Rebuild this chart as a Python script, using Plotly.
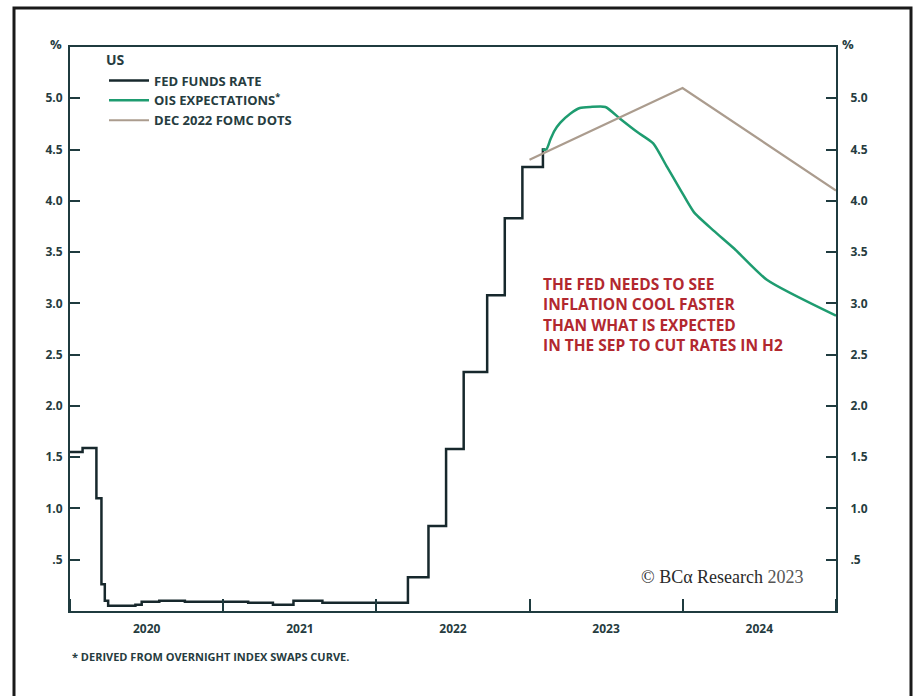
import plotly.graph_objects as go

# ---- data ----
ffr_dates = ["2020-01-01", "2020-01-31", "2020-03-04", "2020-03-16", "2020-03-24", "2020-04-01",
             "2020-06-05", "2020-06-20", "2020-08-01", "2020-10-01", "2021-01-01", "2021-03-01",
             "2021-04-29", "2021-06-17", "2021-08-25", "2022-03-17", "2022-05-05", "2022-06-16",
             "2022-07-28", "2022-09-22", "2022-11-03", "2022-12-15", "2023-02-02", "2023-02-08"]
ffr_values = [1.55, 1.59, 1.10, 0.26, 0.10, 0.05,
              0.06, 0.09, 0.10, 0.09, 0.09, 0.08,
              0.06, 0.10, 0.08, 0.33, 0.83, 1.58,
              2.33, 3.08, 3.83, 4.33, 4.50, 4.50]

ois_dates = ["2023-02-01", "2023-02-10", "2023-02-20", "2023-03-01", "2023-03-15", "2023-04-08",
             "2023-05-01", "2023-05-26", "2023-07-01", "2023-08-05", "2023-09-15", "2023-10-23",
             "2023-11-25", "2023-12-28", "2024-01-28", "2024-03-15", "2024-05-03", "2024-07-20",
             "2025-01-01"]
ois_values = [4.50, 4.50, 4.60, 4.68, 4.76, 4.85,
              4.905, 4.915, 4.915, 4.80, 4.67, 4.56,
              4.33, 4.10, 3.89, 3.71, 3.535, 3.23,
              2.88]

dots_dates = ["2023-01-01", "2024-01-01", "2025-01-01"]
dots_values = [4.4, 5.1, 4.1]

y_tickvals = [0.5, 1.0, 1.5, 2.0, 2.5, 3.0, 3.5, 4.0, 4.5, 5.0]
y_ticktext = [".5", "1.0", "1.5", "2.0", "2.5", "3.0", "3.5", "4.0", "4.5", "5.0"]

note_lines = ["THE FED NEEDS TO SEE", "INFLATION COOL FASTER",
              "THAN WHAT IS EXPECTED", "IN THE SEP TO CUT RATES IN H2"]

AX = "#1f3b3f"
TXT = "#263c40"
FONT = "Open Sans"

fig = go.Figure()
fig.add_trace(go.Scatter(x=ffr_dates, y=ffr_values, mode="lines", name="FED FUNDS RATE",
                         line=dict(color="#17282c", width=2.5, shape="hv")))
fig.add_trace(go.Scatter(x=ois_dates, y=ois_values, mode="lines", name="OIS EXPECTATIONS<sup>*</sup>",
                         line=dict(color="#1e9c70", width=2.5, shape="spline", smoothing=0.6)))
fig.add_trace(go.Scatter(x=dots_dates, y=dots_values, mode="lines", name="DEC 2022 FOMC DOTS",
                         line=dict(color="#ab9c8e", width=2.2), yaxis="y2"))

axis_common = dict(showgrid=False, zeroline=False, showline=True, linecolor=AX, linewidth=2,
                   ticks="inside", tickcolor=AX, tickwidth=1.5,
                   tickfont=dict(family=FONT, size=12, color=TXT, weight="bold"))

fig.update_layout(
    width=924, height=696,
    margin=dict(l=70, r=88, t=47, b=85),
    paper_bgcolor="white", plot_bgcolor="white",
    showlegend=True,
    legend=dict(x=0.0444, y=0.9995, xanchor="left", yanchor="top",
                bgcolor="rgba(0,0,0,0)",
                title=dict(text="US", font=dict(family=FONT, size=14, color=TXT, weight="bold")),
                font=dict(family=FONT, size=13, color=TXT, weight="bold"),
                itemwidth=40, tracegroupgap=0),
    xaxis=dict(type="date", range=["2020-01-01", "2025-01-01"], dtick="M12", tick0="2020-01-01",
               ticklabelmode="period", tickformat="%Y", ticklen=12, mirror=True,
               ticklabelstandoff=6, **axis_common),
    yaxis=dict(range=[0, 5.5], tickvals=y_tickvals, ticktext=y_ticktext, ticklen=10,
               ticklabelstandoff=3, **axis_common),
    yaxis2=dict(range=[0, 5.5], overlaying="y", side="right", tickvals=y_tickvals,
                ticktext=y_ticktext, ticklen=10, ticklabelstandoff=10, **axis_common),
)

annotations = [
    dict(text="%", x=-0.0183, y=1.005, xref="paper", yref="paper", showarrow=False,
         xanchor="center", yanchor="middle",
         font=dict(family=FONT, size=13, color=TXT, weight="bold")),
    dict(text="%", x=1.0157, y=1.005, xref="paper", yref="paper", showarrow=False,
         xanchor="center", yanchor="middle",
         font=dict(family=FONT, size=13, color=TXT, weight="bold")),
    dict(text="* DERIVED FROM OVERNIGHT INDEX SWAPS CURVE.", x=0.0, y=-0.08, xref="paper", yref="paper",
         xanchor="left", yanchor="middle", showarrow=False,
         font=dict(family=FONT, size=11, color=TXT, weight="bold")),
    dict(text="© BCα Research <span style='color:#555555'>2023</span>", x=0.961, y=0.06,
         xref="paper", yref="paper", xanchor="right", yanchor="middle", showarrow=False,
         font=dict(family="Liberation Serif", size=18, color="#2a2a2a")),
]
for i, line in enumerate(note_lines):
    annotations.append(dict(text=line, x=0.615, y=(611 - (284 + 20.3 * i)) / 564,
                            xref="paper", yref="paper", xanchor="left", yanchor="middle",
                            showarrow=False,
                            font=dict(family=FONT, size=15.5, color="#b2282f", weight="bold")))
fig.update_layout(annotations=annotations)

# outer frame
fig.add_shape(type="rect", xref="paper", yref="paper",
              x0=(14 - 70) / 766, x1=(911 - 70) / 766, y0=-0.25, y1=(611 - 8) / 564,
              line=dict(color="#1a1a1a", width=3), fillcolor="rgba(0,0,0,0)", layer="below")

fig.write_html("out.html", config={"displayModeBar": False},
               post_script="document.body.style.margin='0px';")
